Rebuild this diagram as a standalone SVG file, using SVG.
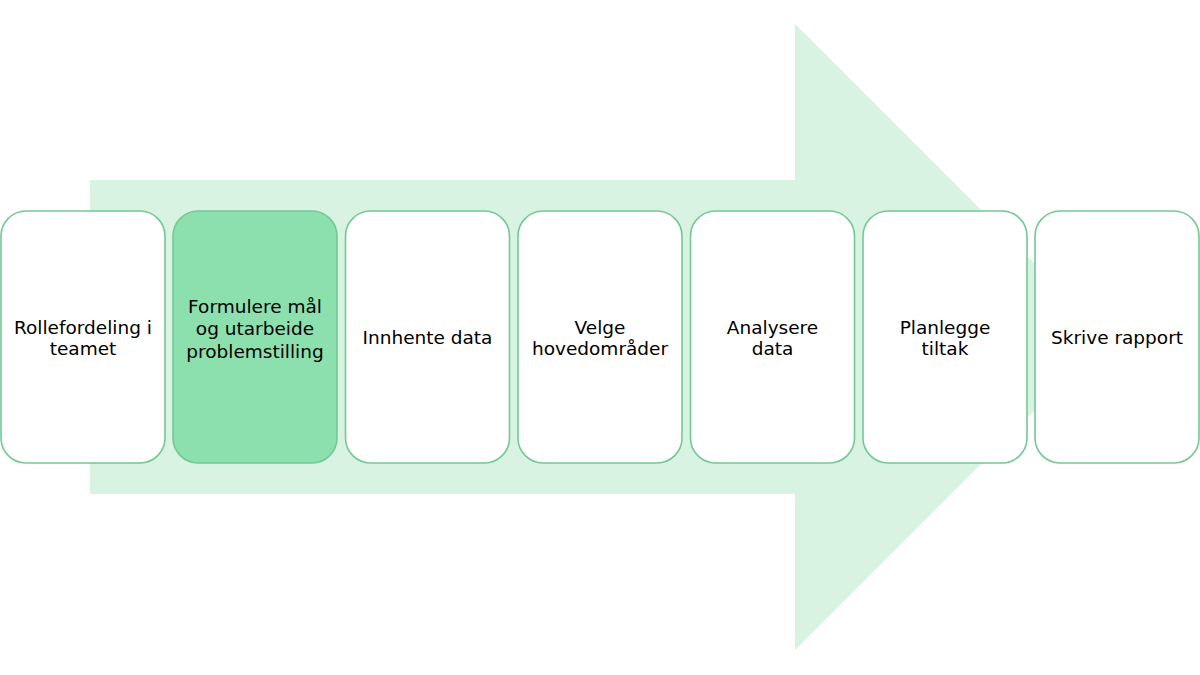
<svg xmlns="http://www.w3.org/2000/svg" width="1200" height="675" viewBox="0 0 1200 675">
<style>
.box{fill:#ffffff;stroke:#74c893;stroke-width:1.6}
.hl{fill:#8ce0ae}
text{font-family:"DejaVu Sans",Verdana,sans-serif;font-size:18.5px;fill:#000;text-anchor:middle}
</style>
<rect width="1200" height="675" fill="#ffffff"/>
<g id="arrow">
<polygon points="90,180 795,180 795,24 1108,337 795,650 795,494 90,494" fill="#d9f3e3"/>
</g>
<g id="n1"><rect class="box" x="1" y="211" width="164" height="252" rx="25"/><text x="83" y="334">Rollefordeling i</text><text x="83" y="355">teamet</text></g>
<g id="n2"><rect class="box hl" x="173" y="211" width="164" height="252" rx="25"/><text x="255" y="313">Formulere mål</text><text x="255" y="335">og utarbeide</text><text x="255" y="358">problemstilling</text></g>
<g id="n3"><rect class="box" x="345.5" y="211" width="164" height="252" rx="25"/><text x="427.5" y="344">Innhente data</text></g>
<g id="n4"><rect class="box" x="518" y="211" width="164" height="252" rx="25"/><text x="600" y="334">Velge</text><text x="600" y="355">hovedområder</text></g>
<g id="n5"><rect class="box" x="690.5" y="211" width="164" height="252" rx="25"/><text x="772.5" y="334">Analysere</text><text x="772.5" y="355">data</text></g>
<g id="n6"><rect class="box" x="863" y="211" width="164" height="252" rx="25"/><text x="945" y="334">Planlegge</text><text x="945" y="355">tiltak</text></g>
<g id="n7"><rect class="box" x="1035" y="211" width="164" height="252" rx="25"/><text x="1117" y="344">Skrive rapport</text></g>
<g id="connectors"></g>
</svg>
